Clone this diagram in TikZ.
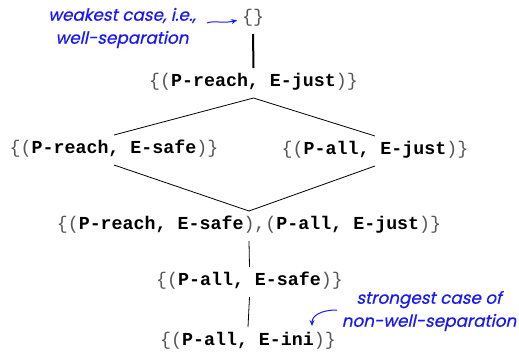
\documentclass[tikz,border=0pt]{standalone}
\usepackage{fontspec}
\setmonofont{Liberation Mono}
\newfontfamily\notefont[FakeSlant=0.22,FakeBold=0.6]{Poppins}
\usetikzlibrary{arrows.meta}
\definecolor{noteblue}{RGB}{25,25,245}
\definecolor{delim}{RGB}{85,85,85}
% light delimiters, bold pair contents
\newcommand\dl[1]{{\mdseries\color{delim}#1}}
\newcommand\pr[1]{{\bfseries #1}}
\tikzset{
  setnode/.style={font=\ttfamily\fontsize{18.3}{20}\selectfont, inner xsep=0pt,
    inner ysep=7pt, text height=11pt, text depth=5pt, outer sep=0pt},
  link/.style={line width=0.8pt},
  thicklink/.style={line width=2pt},
  note/.style={font=\notefont\fontsize{16.8}{23}\selectfont, text=noteblue, align=center, inner sep=0pt},
  notearrow/.style={draw=noteblue, line width=1pt, -{Stealth[length=6pt,width=5pt]}}
}
\begin{document}
\begin{tikzpicture}[x=1pt,y=-1pt]
\useasboundingbox (0,0) rectangle (519,354);

% lattice of separation cases
\node[setnode] (empty) at (253,19) {\dl{\{\}}};
\node[setnode] (rj) at (253.5,83) {\dl{\{(}\pr{P-reach, E-just}\dl{)\}}};
\node[setnode] (rs) at (114,150) {\dl{\{(}\pr{P-reach, E-safe}\dl{)\}}};
\node[setnode] (aj) at (375,151) {\dl{\{(}\pr{P-all, E-just}\dl{)\}}};
\node[setnode] (both) at (249,226) {\dl{\{(}\pr{P-reach, E-safe}\dl{),(}\pr{P-all, E-just}\dl{)\}}};
\node[setnode] (as) at (249.5,282) {\dl{\{(}\pr{P-all, E-safe}\dl{)\}}};
\node[setnode] (ai) at (248,342) {\dl{\{(}\pr{P-all, E-ini}\dl{)\}}};

\draw[thicklink] (empty.south) -- (rj.north);
\draw[link] (rj.south) -- (rs.north);
\draw[link] (rj.south) -- (aj.north);
\draw[link] (rs.south) -- (both.north);
\draw[link] (aj.south) -- (both.north);
\draw[link] (both.south) -- (as.north);
\draw[link] (as.south) -- (ai.north);

% annotations
\node[note] (weak) at (122,28) {weakest case, i.e.,\\well-separation};
\node[note] (strong) at (429,311) {strongest case of\\non-well-separation};
\coordinate (weakend) at (207,23);
\coordinate (strongend) at (337,310);
\draw[notearrow, shorten >=5pt] (weakend) .. controls (215,20) and (222,24) .. (empty.west);
\draw[notearrow] (strongend) .. controls (320,310) and (312,316) .. ([xshift=64pt,yshift=1pt]ai.north);
\end{tikzpicture}
\end{document}
